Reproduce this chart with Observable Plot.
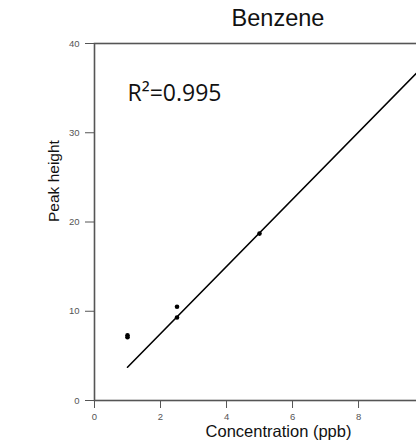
<!DOCTYPE html>
<html><head><meta charset="utf-8">
<script src="https://cdn.jsdelivr.net/npm/d3@7"></script>
<script src="https://cdn.jsdelivr.net/npm/@observablehq/plot@0.6"></script>
<style>
html,body{margin:0;padding:0;overflow:hidden;background:#fff;}
#wrap{position:relative;width:416px;height:445px;overflow:hidden;}
#title{position:absolute;left:0;top:5px;width:556px;text-align:center;font:23.5px "Liberation Sans",Arial,sans-serif;color:#111;}
#chart{position:absolute;left:0;top:0;width:482px;height:445px;}
#chart svg{max-width:none !important;}
</style></head><body>
<div id="wrap"><div id="chart"></div><div id="title">Benzene</div></div>
<script>
const concentration = [1, 1, 2.5, 2.5, 5];
const peakHeight = [7.1, 7.3, 10.5, 9.3, 18.7];
const fitX = [1, 10];
const fitY = [3.73, 37.6];
const xTicks = [0, 2, 4, 6, 8];
const yTicks = [0, 10, 20, 30, 40];
const xLabel = ["Concentration (ppb)"];
const yLabel = ["Peak height"];
const annotation = ["R²=0.995"];

const points = concentration.map((c, i) => ({c, h: peakHeight[i]}));
const fit = fitX.map((x, i) => ({x, y: fitY[i]}));

const chart = Plot.plot({
  width: 482, height: 445,
  marginTop: 43, marginBottom: 45, marginLeft: 94, marginRight: 20,
  style: {fontFamily: "'Liberation Sans', Arial, sans-serif", background: "white", maxWidth: "none"},
  x: {domain: [0, 11.15]},
  y: {domain: [0, 40]},
  marks: [
    Plot.axisX({ticks: xTicks, tickSize: 8, tickPadding: 5, fontSize: 9.5, color: "#555", label: null}),
    Plot.axisY({ticks: yTicks, tickSize: 9, tickPadding: 6, fontSize: 9.5, color: "#555", label: null}),
    Plot.frame({stroke: "#555", strokeWidth: 1.6}),
    Plot.line(fit, {x: "x", y: "y", stroke: "black", strokeWidth: 1.6}),
    Plot.dot(points, {x: "c", y: "h", r: 2.3, fill: "black", stroke: null}),
    Plot.text(annotation, {text: d => d, frameAnchor: "top-left", dx: 33, dy: 41, textAnchor: "start", fontSize: 23, fontFamily: "'Open Sans', sans-serif", fill: "#111"}),
    Plot.text(xLabel, {text: d => d, frameAnchor: "bottom", dy: 36, fontSize: 16.5, fill: "#111"}),
    Plot.text(yLabel, {text: d => d, frameAnchor: "left", dx: -40, rotate: -90, fontSize: 15.5, fill: "#111"})
  ]
});
document.getElementById("chart").appendChild(chart);
</script>
</body></html>
